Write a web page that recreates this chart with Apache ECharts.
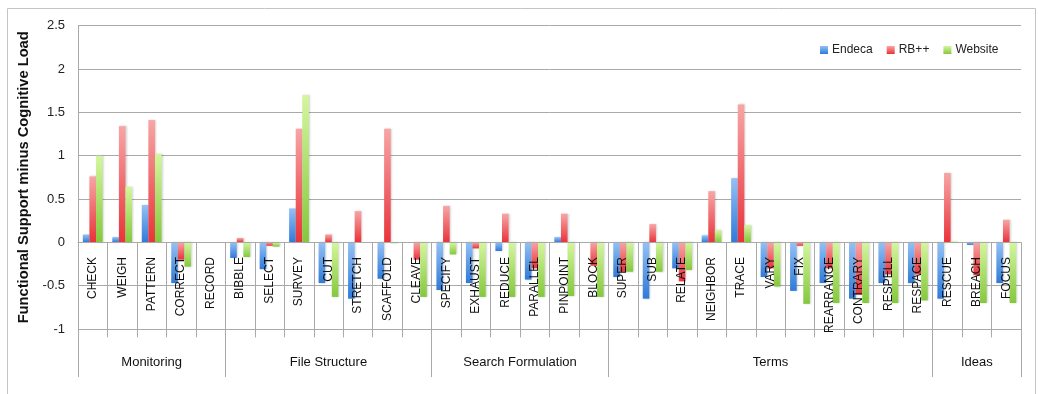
<!DOCTYPE html>
<html>
<head>
<meta charset="utf-8">
<script src="https://cdn.jsdelivr.net/npm/echarts@6/dist/echarts.min.js"></script>
<style>
  html, body { margin: 0; padding: 0; background: #fff; }
  #chart { width: 1038px; height: 394px; }
</style>
</head>
<body>
<div id="chart"></div>
<script>
// Task groups and their member tactics
const groups = ['Monitoring', 'File Structure', 'Search Formulation', 'Terms', 'Ideas'];
const groupSizes = [5, 7, 6, 11, 3];
const categories = [
  'CHECK', 'WEIGH', 'PATTERN', 'CORRECT', 'RECORD',
  'BIBBLE', 'SELECT', 'SURVEY', 'CUT', 'STRETCH', 'SCAFFOLD', 'CLEAVE',
  'SPECIFY', 'EXHAUST', 'REDUCE', 'PARALLEL', 'PINPOINT', 'BLOCK',
  'SUPER', 'SUB', 'RELATE', 'NEIGHBOR', 'TRACE', 'VARY', 'FIX', 'REARRANGE', 'CONTRARY', 'RESPELL', 'RESPACE',
  'RESCUE', 'BREACH', 'FOCUS'
];

// Functional support minus cognitive load, per interface
const endeca = [
  0.09, 0.06, 0.43, -0.47, 0,
  -0.18, -0.31, 0.39, -0.47, -0.65, -0.42, 0,
  -0.55, -0.47, -0.10, -0.43, 0.06, 0,
  -0.40, -0.65, -0.30, 0.08, 0.74, -0.40, -0.56, -0.47, -0.65, -0.47, -0.47,
  -0.65, -0.03, -0.47
];
const rbpp = [
  0.76, 1.34, 1.41, -0.20, 0,
  0.05, -0.04, 1.31, 0.09, 0.36, 1.31, -0.20,
  0.42, -0.07, 0.33, -0.30, 0.33, -0.27,
  -0.34, 0.21, -0.45, 0.59, 1.59, -0.30, -0.04, -0.30, -0.60, -0.37, -0.37,
  0.80, -0.38, 0.26
];
const website = [
  1.00, 0.64, 1.02, -0.28, 0,
  -0.17, -0.05, 1.70, -0.63, 0, -0.01, -0.63,
  -0.14, -0.63, -0.63, -0.63, -0.62, -0.63,
  -0.34, -0.34, -0.32, 0.14, 0.20, -0.51, -0.71, -0.70, -0.70, -0.70, -0.67,
  0.01, -0.70, -0.70
];

// Value axis ticks
const yTicks = [-1, -0.5, 0, 0.5, 1, 1.5, 2, 2.5];

const chart = echarts.init(document.getElementById('chart'), null, { renderer: 'canvas' });

function grad(light, dark) {
  return new echarts.graphic.LinearGradient(0, 0, 0, 1, [
    { offset: 0, color: light },
    { offset: 1, color: dark }
  ]);
}
const palette = {
  Endeca: ['#93c1f5', '#2f7ad8'],
  'RB++': ['#f8a5a5', '#e8333a'],
  Website: ['#d4f69e', '#84c83c']
};

// Group axis: half-category points so each group label sits at its centre
const halfCount = categories.length * 2 + 1;
const groupAxisData = new Array(halfCount).fill('');
const groupBounds = [0];
let start = 0;
groups.forEach((g, i) => {
  const end = start + groupSizes[i];
  groupAxisData[start + end] = g;
  groupBounds.push(end * 2);
  start = end;
});

const gridColor = '#a9a9a9';
const font = 'Liberation Sans, Arial, sans-serif';

function barSeries(name, values) {
  const c = palette[name];
  return {
    name: name,
    type: 'bar',
    xAxisIndex: 0,
    barWidth: 6.6,
    barGap: '0%',
    itemStyle: {
      color: grad(c[0], c[1]),
      shadowColor: 'rgba(0,0,0,0.18)',
      shadowBlur: 2,
      shadowOffsetX: 1
    },
    data: values
  };
}

chart.setOption({
  animation: false,
  textStyle: { fontFamily: font },
  graphic: [{
    type: 'rect',
    shape: { x: 7.5, y: 8.5, width: 1028, height: 400 },
    style: { fill: 'none', stroke: '#c4c4c4', lineWidth: 1 },
    silent: true,
    z: -10
  }],
  legend: {
    left: 815,
    top: 39,
    itemWidth: 8,
    itemHeight: 8,
    itemGap: 14,
    icon: 'rect',
    textStyle: { fontSize: 12, color: '#222', fontFamily: font, padding: [0, 0, 0, -1] },
    data: ['Endeca', 'RB++', 'Website']
  },
  grid: { left: 78, right: 17, top: 25.6, bottom: 65, containLabel: false, outerBoundsMode: 'none' },
  xAxis: [{
    type: 'category',
    data: categories,
    position: 'bottom',
    z: 10,
    axisLine: { show: true, onZero: true, lineStyle: { color: gridColor, width: 1 } },
    axisTick: { show: true, length: 95, interval: 0, lineStyle: { color: gridColor } },
    axisLabel: {
      interval: 0,
      rotate: 90,
      margin: -72,
      fontSize: 12,
      color: '#111',
      fontFamily: font
    },
    splitLine: { show: false }
  }, {
    type: 'category',
    data: groupAxisData,
    position: 'bottom',
    boundaryGap: false,
    axisLine: { show: false, onZero: false },
    axisTick: {
      show: true,
      length: 48,
      interval: function (idx) { return groupBounds.indexOf(idx) >= 0; },
      lineStyle: { color: gridColor }
    },
    axisLabel: {
      interval: 0,
      margin: 27,
      fontSize: 13,
      color: '#111',
      fontFamily: font
    },
    splitLine: { show: false }
  }],
  yAxis: {
    type: 'value',
    min: yTicks[0],
    max: yTicks[yTicks.length - 1],
    interval: 0.5,
    name: 'Functional Support minus Cognitive Load',
    nameLocation: 'middle',
    nameRotate: 90,
    nameGap: 39.5,
    nameTextStyle: { fontSize: 14.7, fontWeight: 'bold', color: '#111', fontFamily: font },
    axisLine: { show: true, lineStyle: { color: gridColor } },
    axisTick: { show: false },
    axisLabel: { margin: 13, fontSize: 13, color: '#222', fontFamily: font },
    splitLine: { show: true, lineStyle: { color: gridColor, width: 1 } }
  },
  series: [
    barSeries('Endeca', endeca),
    barSeries('RB++', rbpp),
    barSeries('Website', website)
  ]
});
</script>
</body>
</html>
